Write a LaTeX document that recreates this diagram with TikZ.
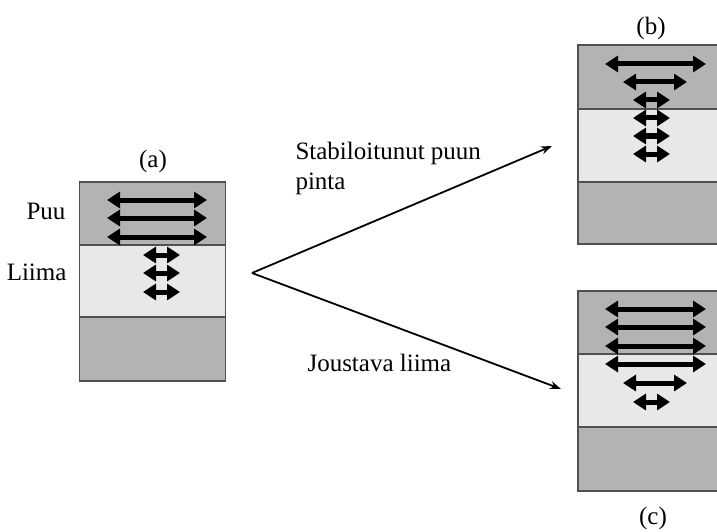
\documentclass[tikz,border=0pt]{standalone}
\usepackage{fontspec}
\setmainfont{Liberation Serif}
\usetikzlibrary{arrows.meta}
\definecolor{woodgray}{HTML}{B3B3B3}
\definecolor{gluegray}{HTML}{E8E8E8}
\definecolor{edgegray}{HTML}{505050}

\begin{document}
\begin{tikzpicture}[
  x=1pt,
  y=-1pt,
  font=\fontsize{25}{30}\selectfont,
  layer/.style={rectangle, draw=edgegray, line width=1.4pt, minimum width=146pt, inner sep=0pt},
  woodlayer/.style={layer, fill=woodgray},
  gluelayer/.style={layer, fill=gluegray},
  strain/.style={{Triangle[length=13pt,width=16pt]}-{Triangle[length=13pt,width=16pt]}, line width=5pt},
  branch/.style={-{Stealth[length=11pt,width=8pt]}, line width=1.8pt}
]
\useasboundingbox (0,0) rectangle (717,532);

% sample (a)
\node[woodlayer, minimum height=63pt] (awood) at (152.5,213.5) {};
\node[gluelayer, minimum height=72pt] (aglue) at (152.5,281) {};
\node[woodlayer, minimum height=64pt] (abase) at (152.5,349) {};
\node (alabel) at (153,161) {(a)};
\node[anchor=east] (puu) at (69,211) {Puu};
\node[anchor=east] (liima) at (70,272) {Liima};
\foreach \y in {200,218,237}
  \draw[strain] (107,\y) -- (207,\y);
\foreach \y in {255,273,292}
  \draw[strain] (143,\y) -- (180,\y);

% sample (b)
\node[woodlayer, minimum height=64pt] (bwood) at (651,77) {};
\node[gluelayer, minimum height=73pt] (bglue) at (651,145.5) {};
\node[woodlayer, minimum height=62pt] (bbase) at (651,213) {};
\node (blabel) at (651,28) {(b)};
\draw[strain] (605,64) -- (706,64);
\draw[strain] (623,82) -- (687,82);
\foreach \y in {100,118,136,154}
  \draw[strain] (633,\y) -- (670,\y);

% sample (c)
\node[woodlayer, minimum height=63pt] (cwood) at (651,322.5) {};
\node[gluelayer, minimum height=73pt] (cglue) at (651,390.5) {};
\node[woodlayer, minimum height=64pt] (cbase) at (651,459) {};
\node (clabel) at (653,518) {(c)};
\foreach \y in {309,327,346,364}
  \draw[strain] (605,\y) -- (706,\y);
\draw[strain] (623,383) -- (687,383);
\draw[strain] (633,402) -- (670,402);

% branches
\coordinate (fork) at (252,273);
\coordinate (tob) at (552,146);
\coordinate (toc) at (561,389);
\draw[branch] (fork) -- (tob);
\draw[branch] (fork) -- (toc);
\node[anchor=west, align=left] (stable) at (292,168) {Stabiloitunut puun\\pinta};
\node[anchor=west] (flex) at (304,363) {Joustava liima};

\end{tikzpicture}
\end{document}
